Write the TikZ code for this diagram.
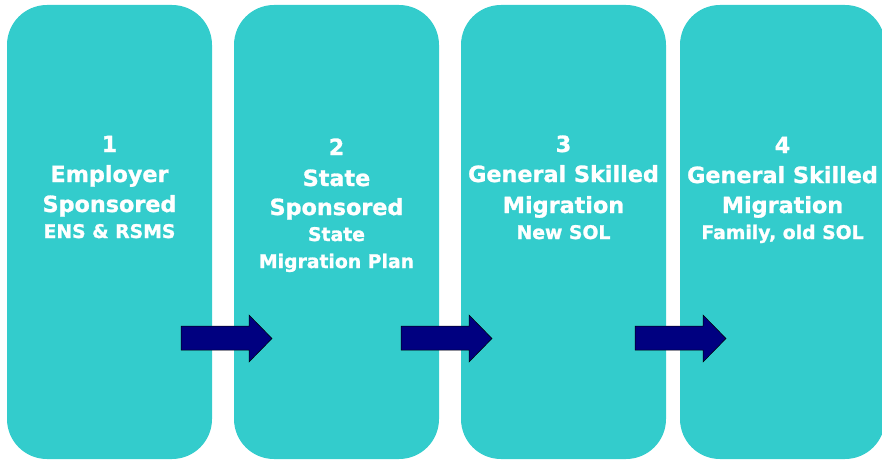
\documentclass[tikz,border=0pt]{standalone}
\usepackage{fontspec}
\setmainfont{DejaVu Sans}[BoldFeatures={FakeBold=1.2}]
\definecolor{teal1}{RGB}{51,204,204}
\definecolor{navy1}{RGB}{0,0,128}
\tikzset{
  box/.style={fill=teal1, draw=none, rounded corners=40pt, minimum width=205pt, minimum height=454pt, inner sep=0pt},
  big/.style={text=white, font=\fontsize{22.3}{27}\selectfont\bfseries, anchor=base, inner sep=0pt},
  small/.style={text=white, font=\fontsize{18.8}{22}\selectfont\bfseries, anchor=base, inner sep=0pt},
  blockarrow/.style={fill=navy1, draw=black, line width=0.5pt, line join=miter}
}
\begin{document}
\begin{tikzpicture}[x=1pt, y=-1pt]
\useasboundingbox (0,0) rectangle (882,460);
\clip (0,0) rectangle (882,460);
\node[box] (b1) at (109.5,232) {};
\node[box] (b2) at (336.5,232) {};
\node[box] (b3) at (563.5,232) {};
\node[box] (b4) at (782.5,232) {};
% arrows
\foreach \dx/\nm in {0/a1,220/a2,454/a3}{
  \draw[blockarrow, xshift=\dx pt] (181,326) -- (249,326) -- (249,315) -- (272,338.5) -- (249,362) -- (249,350) -- (181,350) -- cycle;
}
% box 1
\node[big] (t1a) at (109.5,152) {1};
\node[big] (t1b) at (109.5,182) {Employer};
\node[big] (t1c) at (109.5,212) {Sponsored};
\node[small] (t1d) at (109.5,238) {ENS \& RSMS};
% box 2
\node[big] (t2a) at (336.5,155) {2};
\node[big] (t2b) at (336.5,186) {State};
\node[big] (t2c) at (336.5,215) {Sponsored};
\node[small] (t2d) at (336.5,241) {State};
\node[small] (t2e) at (336.5,268) {Migration Plan};
% box 3
\node[big] (t3a) at (563.5,152) {3};
\node[big] (t3b) at (563.5,182) {General Skilled};
\node[big] (t3c) at (563.5,213) {Migration};
\node[small] (t3d) at (563.5,239) {New SOL};
% box 4
\node[big] (t4a) at (782.5,153) {4};
\node[big] (t4b) at (782.5,183) {General Skilled};
\node[big] (t4c) at (782.5,213) {Migration};
\node[small] (t4d) at (782.5,239) {Family, old SOL};
\end{tikzpicture}
\end{document}
